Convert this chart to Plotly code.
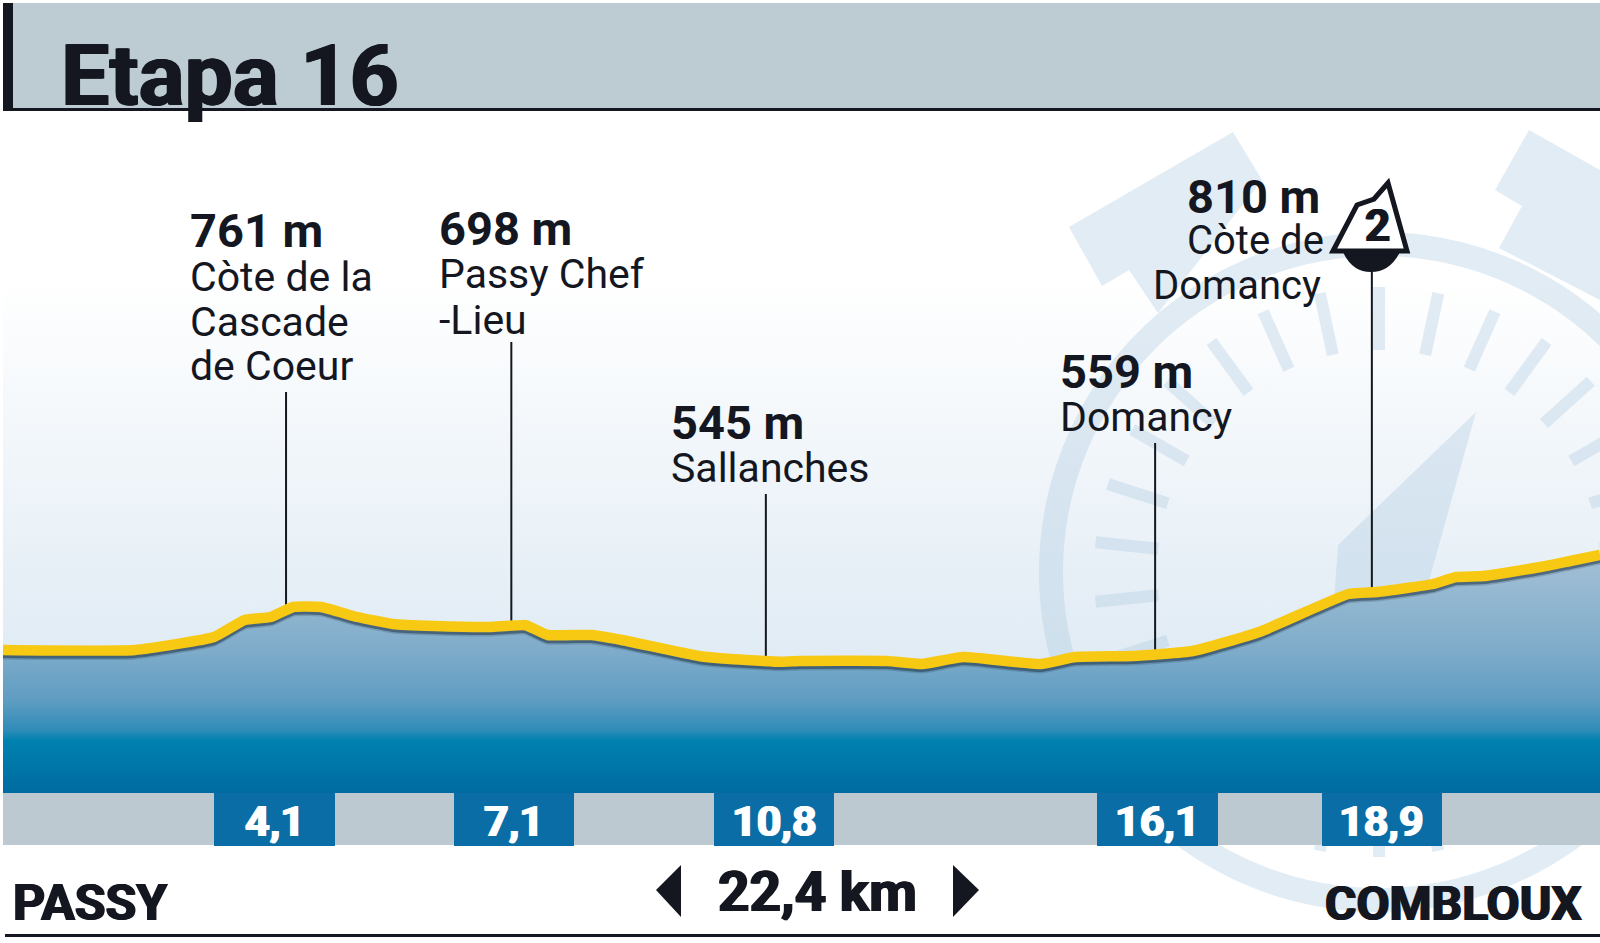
import numpy as np
import plotly.graph_objects as go

# profile of the stage
km = [0, 1.85, 2.96, 3.39, 3.75, 4.07, 4.46, 4.97, 5.47, 6.05, 6.83, 7.33, 7.64, 8.26, 8.68,
      9.76, 10.2, 10.91, 11.18, 12.4, 12.89, 13.47, 14.55, 15.04, 15.84, 16.69, 17.62, 18.87,
      19.27, 20.06, 20.38, 20.77, 21.56, 21.98, 22.4]
elevation = [585, 585, 637, 705, 717, 757, 757, 717, 689, 681, 677, 684, 645, 645, 625,
             561, 549, 538, 541, 541, 529, 557, 529, 557, 561, 581, 657, 809,
             817, 849, 877, 881, 917, 941, 965]

# stems going up from the profile
stem_km = [3.97, 7.13, 10.7, 16.16, 19.2]
stem_base_m = [761, 698, 545, 559, 810]
stem_top_m = [1617, 1817, 1209, 1413, 2097]

peak_labels = ["761 m", "698 m", "545 m", "559 m", "810 m"]
place_lines = [["Còte de la", "Cascade", "de Coeur"], ["Passy Chef", "-Lieu"], ["Sallanches"], ["Domancy"],
               ["Còte de", "Domancy"]]
split_labels = ["4,1", "7,1", "10,8", "16,1", "18,9"]

title = "Etapa 16"
start_name = "PASSY"
finish_name = "COMBLOUX"
distance = "22,4 km"

INK = "#14171f"
GREY = "#bdc9d1"
BOX = "#0a6da6"
WATER = "rgba(176,203,224,0.36)"
FONT = "Roboto"
SMOOTH = dict(shape="spline", smoothing=0.4)

fig = go.Figure()

# pale backdrop, on the pixel axes
fig.add_trace(go.Scatter(x=[3, 1600, 1600, 3, 3], y=[111, 111, 800, 800, 111], mode="none", fill="toself",
                         fillgradient=dict(type="vertical", start=280, stop=700,
                                           colorscale=[[0, "#ffffff"], [1, "#dde9f3"]]),
                         hoverinfo="skip"))

# stopwatch watermark
ang = np.linspace(0, 2 * np.pi, 361)
fig.add_trace(go.Scatter(x=1379 + 328 * np.sin(ang), y=572 - 328 * np.cos(ang), mode="lines",
                         line=dict(color=WATER, width=24, simplify=False), hoverinfo="skip"))
tick_x, tick_y = [], []
for a in np.radians(np.arange(0, 360, 12)):
    tick_x += [1379 + 222 * np.sin(a), 1379 + 285 * np.sin(a), None]
    tick_y += [572 - 222 * np.cos(a), 572 - 285 * np.cos(a), None]
fig.add_trace(go.Scatter(x=tick_x, y=tick_y, mode="lines", line=dict(color=WATER, width=12), hoverinfo="skip"))
for px, py in [([1069, 1233, 1262, 1158, 1129, 1102, 1069], [227, 132, 180, 313, 270, 286, 227]),
               ([1529, 1600, 1600, 1499, 1522, 1495, 1529], [130, 170, 300, 248, 206, 190, 130]),
               ([1476, 1338, 1330, 1407, 1476], [412, 545, 660, 660, 412])]:
    fig.add_trace(go.Scatter(x=px, y=py, mode="none", fill="toself", fillcolor=WATER, hoverinfo="skip"))

# profile, on the km / metre axes
fig.add_trace(go.Scatter(x=km, y=elevation, xaxis="x2", yaxis="y2", mode="lines", fill="tozeroy",
                         line=dict(color="rgba(0,0,0,0)", width=0, **SMOOTH),
                         fillgradient=dict(type="vertical", start=0, stop=965,
                                           colorscale=[[0, "#0069a0"], [0.232, "#0081b0"], [0.274, "#2f8cb8"],
                                                       [0.398, "#5f9dc2"], [0.606, "#7facca"], [1, "#a3c0d6"]]),
                         hoverinfo="skip"))
for drop, alpha in [(18, 0.2), (12, 0.5)]:
    fig.add_trace(go.Scatter(x=km, y=[e - drop for e in elevation], xaxis="x2", yaxis="y2", mode="lines",
                             line=dict(color=f"rgba(30,50,70,{alpha})", width=10, **SMOOTH), hoverinfo="skip"))
for sx, sb, st in zip(stem_km, stem_base_m, stem_top_m):
    fig.add_trace(go.Scatter(x=[sx, sx], y=[sb, st], xaxis="x2", yaxis="y2", mode="lines",
                             line=dict(color=INK, width=2), hoverinfo="skip"))
fig.add_trace(go.Scatter(x=km, y=elevation, xaxis="x2", yaxis="y2", mode="lines",
                         line=dict(color="#f8c912", width=10.5, **SMOOTH), hoverinfo="skip"))


def rect(x0, y0, x1, y1, color):
    fig.add_shape(type="rect", xref="x", yref="y", x0=x0, y0=y0, x1=x1, y1=y1,
                  fillcolor=color, line_width=0, layer="above")


def label(x, y, text, size, bold=False, color=INK, anchor="left", heavy=False):
    font = dict(family=FONT, size=size, color=color, weight=700 if bold or heavy else 400)
    if heavy:
        font["shadow"] = f"1px 0 0 {color}, -1px 0 0 {color}"
    fig.add_annotation(xref="x", yref="y", x=x, y=y, text=text, showarrow=False, xanchor=anchor, yanchor="middle",
                       font=font)


# header
rect(3, 3, 1600, 110, "#bdcbd3")
rect(3, 3, 13, 111, INK)
rect(3, 108, 1600, 111, INK)
label(59, 75, title, 86, heavy=True)

# bottom band
for x0, x1 in [(3, 214), (335, 454), (574, 714), (834, 1097), (1218, 1322), (1442, 1600)]:
    rect(x0, 793, x1, 845, GREY)
for (x0, x1), text, cx in zip([(214, 335), (454, 574), (714, 834), (1097, 1218), (1322, 1442)], split_labels,
                              [275, 514, 774, 1157, 1381]):
    rect(x0, 793, x1, 846, BOX)
    label(cx, 821, text, 43, heavy=True, color="#ffffff", anchor="center")

# climbs
label_pos = [(188, 230, [277, 322, 366]), (437, 228, [274, 320]), (669, 422, [468]), (1058, 371, [417]),
             (1185, 196, [240, 285])]
for text, lines, (x, y, ys) in zip(peak_labels, place_lines, label_pos):
    label(x, y, text, 47, bold=True)
    for line, ly in zip(lines, ys):
        if line == "Domancy" and x == 1185:
            label(1323, ly, line, 40, anchor="right")
        elif x == 1185:
            label(x, ly, line, 40)
        else:
            label(x, ly, line, 41)

# category badge
fig.add_shape(type="path", xref="x", yref="y", layer="above", line=dict(color=INK, width=5), fillcolor="#ffffff",
              path="M 1333 251 L 1357 205 L 1374 199 L 1388 183 L 1407 251 Z")
fig.add_shape(type="path", xref="x", yref="y", layer="above", line_width=0, fillcolor=INK,
              path="M 1343 252 Q 1352 272 1371 272 Q 1390 272 1400 252 Z")
label(1377, 226, "2", 44, heavy=True, anchor="center")

# footer
label(11, 903, start_name, 50, heavy=True)
label(1584, 903, finish_name, 48, heavy=True, anchor="right")
label(817, 892, distance, 55, heavy=True, anchor="center")
fig.add_shape(type="path", xref="x", yref="y", layer="above", line_width=0, fillcolor=INK,
              path="M 681 865 L 656 890 L 681 917 Z")
fig.add_shape(type="path", xref="x", yref="y", layer="above", line_width=0, fillcolor=INK,
              path="M 953 865 L 979 890 L 953 917 Z")
rect(5, 934, 1600, 937, INK)

hidden = dict(visible=False, showgrid=False, zeroline=False, fixedrange=True)
fig.update_layout(
    width=1600, height=943, margin=dict(l=0, r=0, t=0, b=0),
    paper_bgcolor="#ffffff", plot_bgcolor="#ffffff", showlegend=False,
    xaxis=dict(range=[0, 1600], domain=[0, 1], **hidden),
    yaxis=dict(range=[943, 0], domain=[0, 1], **hidden),
    xaxis2=dict(range=[-0.042, 22.4], overlaying="x", **hidden),
    yaxis2=dict(range=[-587, 3185], overlaying="y", **hidden),
)

fig.write_html("out.html", config=dict(displayModeBar=False), post_script="document.body.style.margin='0'")
